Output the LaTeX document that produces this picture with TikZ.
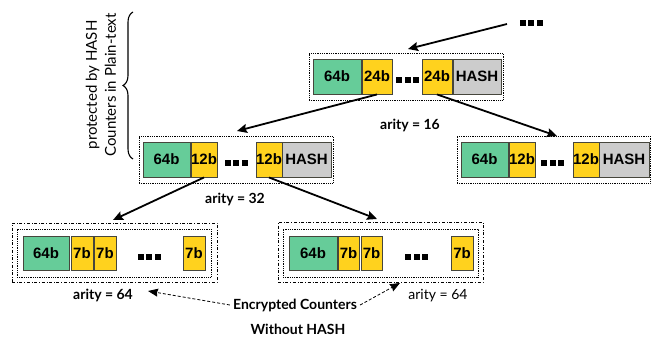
\documentclass[tikz,border=0pt]{standalone}
\usepackage{fontspec}
\setmainfont{Lato}
\newfontfamily\cellfont{Liberation Sans}
\usetikzlibrary{fit,arrows.meta,decorations.pathreplacing}
\definecolor{cgreen}{RGB}{102,204,153}
\definecolor{cyellow}{RGB}{255,210,30}
\definecolor{cgray}{RGB}{204,204,204}
\definecolor{cedge}{RGB}{70,70,60}
\newcommand{\sqdots}{\rule{6pt}{6pt}\hspace{2.5pt}\rule{6pt}{6pt}\hspace{2.5pt}\rule{6pt}{6pt}}
\tikzset{
  cell/.style={draw=cedge, line width=0.9pt, inner sep=0pt, minimum height=35pt,
    font=\cellfont\bfseries\fontsize{15}{17}\selectfont},
  gcell/.style={cell, fill=cgreen},
  ycell/.style={cell, fill=cyellow},
  hcell/.style={cell, fill=cgray},
  dotsnode/.style={inner sep=0pt},
  nodebox/.style={draw, densely dotted, line width=0.8pt, inner sep=0pt},
  outerbox/.style={draw, dash dot, line width=0.8pt, inner sep=0pt},
  link/.style={line width=1.8pt, -{Stealth[length=10pt,width=9pt,inset=1.5pt]}},
  note/.style={line width=0.8pt, densely dashed, -{Stealth[length=10pt,width=8pt,inset=1pt]}},
  lbl/.style={font=\fontsize{14}{17}\selectfont, inner sep=0pt},
  blbl/.style={lbl, font=\bfseries\fontsize{14}{17}\selectfont},
}
\begin{document}
\begin{tikzpicture}[x=1pt,y=-1pt]
\useasboundingbox (0,0) rectangle (656,339);

% top node
\node[gcell, minimum width=48pt] (t64) at (337,76.5) {64b};
\node[ycell, minimum width=30pt] (t24a) at (377,76.5) {24b};
\node[dotsnode] (tdots) at (407.5,80) {\sqdots};
\node[ycell, minimum width=30pt] (t24b) at (437,76.5) {24b};
\node[hcell, minimum width=48pt] (thash) at (477,76.5) {HASH};
\node[nodebox, fit={(309,53) (503,100)}] (tbox) {};

% middle left
\node[gcell, minimum width=47pt] (m64) at (166.5,159.5) {64b};
\node[ycell, minimum width=26pt] (m12a) at (204,159.5) {12b};
\node[dotsnode] (mdots) at (236,163) {\sqdots};
\node[ycell, minimum width=26pt] (m12b) at (269,159.5) {12b};
\node[hcell, minimum width=49pt] (mhash) at (306.5,159.5) {HASH};
\node[nodebox, fit={(139,136) (333,183)}] (mbox) {};

% middle right
\node[gcell, minimum width=47pt] (r64) at (484.5,159.5) {64b};
\node[ycell, minimum width=26pt] (r12a) at (522,159.5) {12b};
\node[dotsnode] (rdots) at (552.5,163) {\sqdots};
\node[ycell, minimum width=26pt] (r12b) at (586,159.5) {12b};
\node[hcell, minimum width=50pt] (rhash) at (624,159.5) {HASH};
\node[nodebox, fit={(457,136) (650,183)}] (rbox) {};

% bottom left
\node[gcell, minimum width=46pt, minimum height=34pt] (b64) at (46,253) {64b};
\node[ycell, minimum width=22pt, minimum height=34pt] (b7a) at (82,253) {7b};
\node[ycell, minimum width=22pt, minimum height=34pt] (b7b) at (105,253) {7b};
\node[dotsnode] (bdots) at (149,257) {\sqdots};
\node[ycell, minimum width=22pt, minimum height=34pt] (b7c) at (194,253) {7b};
\node[nodebox, fit={(17,229) (211,277)}] (bin) {};
\node[outerbox, fit={(12,223) (217,282)}] (bout) {};

% bottom right
\node[gcell, minimum width=48pt, minimum height=34pt] (c64) at (313,253) {64b};
\node[ycell, minimum width=21pt, minimum height=34pt] (c7a) at (348.5,253) {7b};
\node[ycell, minimum width=21pt, minimum height=34pt] (c7b) at (371.5,253) {7b};
\node[dotsnode] (cdots) at (416.5,257) {\sqdots};
\node[ycell, minimum width=22pt, minimum height=34pt] (c7c) at (462,253) {7b};
\node[nodebox, fit={(283,229) (478,277)}] (cin) {};
\node[outerbox, fit={(278,222) (483,282)}] (cout) {};

% top dots
\node[dotsnode] (topdots) at (531,23) {\sqdots};

% labels
\node[blbl] (ar16) at (410,125) {arity = 16};
\node[blbl] (ar32) at (235,199) {arity = 32};
\node[blbl] (ar64a) at (103,295) {arity = 64};
\node[lbl] (ar64b) at (438,296) {arity = 64};
\node[blbl] (enc) at (295,305) {Encrypted Counters};
\node[blbl] (woh) at (298,329) {Without HASH};

% brace and its text
\coordinate (brb) at (133,159);
\coordinate (brt) at (133,12);
\draw[line width=1.1pt, decorate, decoration={brace, amplitude=10pt}] (brb) -- (brt);
\node[lbl, rotate=90, align=center, font=\fontsize{15}{19}\selectfont] (brtext) at (101,85) {protected by HASH\\Counters in Plain-text};

% connectors
\coordinate (a0s) at (507,24);
\coordinate (a0e) at (408,49);
\draw[link] (a0s) -- (a0e);
\coordinate (a1e) at (237,131);
\draw[link] (t24a.south) -- (a1e);
\coordinate (a2e) at (557,136);
\draw[link] (t24b.south) -- (a2e);
\coordinate (a3e) at (113,220);
\draw[link] (m12a.south) -- (a3e);
\coordinate (a4e) at (377,219);
\draw[link] (m12b.south) -- (a4e);

% note arrows
\coordinate (n1e) at (148,291);
\coordinate (n2e) at (400,283);
\draw[note] ([xshift=-3pt]enc.west) -- (n1e);
\draw[note] ([xshift=3pt]enc.east) -- (n2e);
\end{tikzpicture}
\end{document}
